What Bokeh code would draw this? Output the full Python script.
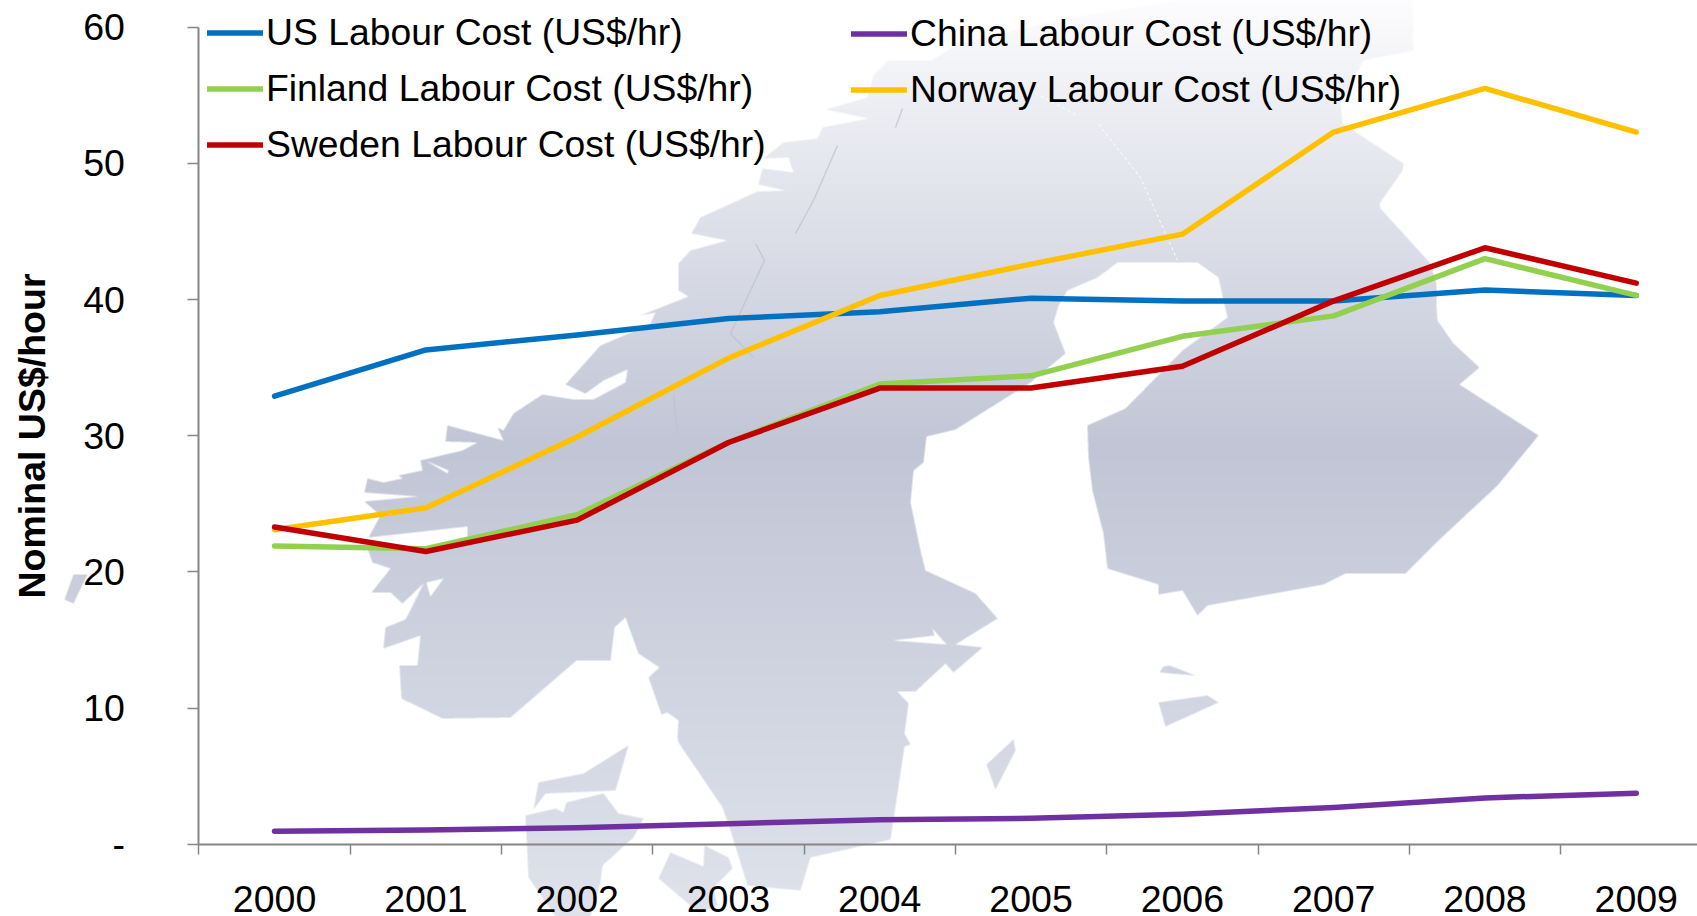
import numpy as np
from bokeh.embed import file_html
from bokeh.resources import INLINE
from bokeh.plotting import figure
from bokeh.models import Range1d, FixedTicker, Legend, LegendItem

# ---------- chart data ----------
years = [2000, 2001, 2002, 2003, 2004, 2005, 2006, 2007, 2008, 2009]
us = [32.9, 36.3, 37.4, 38.6, 39.1, 40.1, 39.9, 39.9, 40.7, 40.3]
china = [0.95, 1.05, 1.2, 1.5, 1.8, 1.9, 2.2, 2.7, 3.4, 3.75]
finland = [21.9, 21.7, 24.2, 29.5, 33.8, 34.4, 37.3, 38.8, 43.0, 40.3]
norway = [23.1, 24.7, 29.9, 35.7, 40.3, 42.6, 44.8, 52.3, 55.5, 52.3]
sweden = [23.3, 21.5, 23.8, 29.5, 33.5, 33.5, 35.1, 39.9, 43.8, 41.2]
y_ticks = [0, 10, 20, 30, 40, 50, 60]
y_labels = {0: "-", 10: "10", 20: "20", 30: "30", 40: "40", 50: "50", 60: "60"}

# ---------- page geometry ----------
W, H = 1697, 916
AX_L, AX_B, AX_T, STEP = 198.4, 843.7, 26.7, 151.3
PX_Y = (AX_B - AX_T) / 60.0
x0 = 1999.5 - AX_L / STEP
x1 = 1999.5 + (W - AX_L) / STEP
y0 = (AX_B - H) / PX_Y
y1 = AX_B / PX_Y
def fx(v): return [x0 + a / STEP for a in v]
def fy(v): return [(AX_B - a) / PX_Y for a in v]

# ---------- backdrop map outlines (page pixels) ----------
mainland = [(1174,0),(1412,0),(1413,50),(1363,60),(1340,103),(1342,123),(1403,163),(1402,170),(1379,203),(1380,208),
 (1430,263),(1436,283),(1436,305),(1437,320),(1453,343),(1479,367),(1459,384),(1538,435),(1497,485),(1438,540),
 (1405,573),(1345,573),(1323,584),(1207,605),(1197,615),(1182,590),(1158,594),(1158,584),(1107,568),(1103,533),
 (1092,490),(1088,457),(1087,425),(1125,408),(1182,350),(1227,317),(1223,300),(1218,277),(1197,262),(1117,262),
 (1097,277),(1067,290),(1058,305),(1053,322),(1065,353),(1030,382),(955,429),(926,436),(923,462),(913,470),
 (910,502),(920,550),(925,570),(975,593),(997,618),(955,644),(982,647),(953,672),(945,663),(915,691),(897,691),
 (908,703),(904,733),(910,744),(904,746),(890,839),(810,857),(800,890),(747,885),(730,830),(722,807),(678,742),
 (677,737),(678,720),(667,712),(661,714),(648,677),(659,667),(638,653),(625,617),(614,627),(610,660),(576,660),
 (510,717),(442,718),(401,698),(399,665),(417,665),(420,635),(383,648),(385,627),(405,619),(424,583),(409,610),
 (423,583),(402,603),(390,592),(371,592),(390,568),(372,562),(367,548),(368,537),(380,515),(364,501),(418,496),
 (364,492),(367,478),(383,482),(402,478),(398,475),(422,470),(420,460),(462,450),(477,442),(445,441),(447,425),
 (503,440),(497,427),(503,430),(513,413),(542,394),(573,399),(593,399),(625,382),(627,369),(603,380),(585,393),
 (565,384),(600,345),(640,328),(650,323),(655,312),(640,315),(688,296),(678,290),(678,263),(690,250),(727,240),
 (691,233),(700,217),(757,191),(785,190),(758,184),(762,168),(793,172),(788,157),(763,158),(783,142),(817,138),
 (822,127),(868,118),(825,109),(867,97),(873,75),(888,60),(931,60),(958,43),(1066,18)]
holes = [[(892,640),(934,635),(932,628),(946,644)],
         [(368,537),(467,526),(467,537),(457,546),(427,546),(368,546)],
         [(425,460),(448,470),(447,473)],
         [(426,582),(443,578),(430,596),(428,590)]]
islands = [[(1013,739),(1015,750),(995,789),(986,764)],
 [(658,878),(670,852),(703,866),(704,845),(728,857),(732,868),(713,887),(717,905),(700,912),(690,905)],
 [(525,815),(555,808),(563,812),(566,802),(603,793),(618,813),(643,818),(633,837),(602,865),(600,882),(590,916),(555,916),(528,877)],
 [(538,782),(583,773),(628,745),(615,790),(545,793),(533,809)],
 [(73,574),(87,574),(73,603),(64,599)],
 [(1163,666),(1169,665),(1195,675),(1159,672)],
 [(1158,702),(1207,695),(1218,702),(1165,726)]]
dark_traces = [[(837,145),(813,200),(795,233)],
               [(755,243),(764,260),(730,333),(753,357)],
               [(673,395),(677,435)],
               [(902,108),(895,127)]]
white_traces = [[(1030,90),(1077,115)], [(1098,124),(1140,177),(1177,260)]]

# ---------- rasterise the map with its vertical gradient ----------
SS = 3
cov = np.zeros((H, W), dtype=float)
polys = [mainland] + holes + islands
for sub in range(H * SS):
    yy = (sub + 0.5) / SS
    row = np.zeros(W * SS + 1, dtype=int)
    for poly in polys:
        a = np.array(poly, dtype=float)
        b = np.roll(a, -1, axis=0)
        hit = (a[:, 1] <= yy) != (b[:, 1] <= yy)
        if not hit.any():
            continue
        xs = a[hit, 0] + (yy - a[hit, 1]) / (b[hit, 1] - a[hit, 1]) * (b[hit, 0] - a[hit, 0])
        idx = np.clip(np.round(np.sort(xs) * SS).astype(int), 0, W * SS)
        np.add.at(row, idx, 1)
    inside = (np.cumsum(row)[:-1] % 2).astype(float)
    cov[sub // SS] += inside.reshape(W, SS).mean(axis=1) / SS

ys = np.arange(H)
stops_y = [0, 100, 445, 900]
r = np.interp(ys, stops_y, [253, 238, 193, 223])
g = np.interp(ys, stops_y, [253, 239, 198, 226])
b_ = np.interp(ys, stops_y, [254, 244, 214, 235])
img = np.zeros((H, W), dtype=np.uint32)
view = img.view(np.uint8).reshape(H, W, 4)
view[..., 0] = r[:, None].astype(np.uint8)
view[..., 1] = g[:, None].astype(np.uint8)
view[..., 2] = b_[:, None].astype(np.uint8)
view[..., 3] = (cov * 255).astype(np.uint8)
img = img[::-1]

# ---------- figure ----------
FONT = "Liberation Sans"
p = figure(width=W, height=H, output_backend="svg", toolbar_location=None,
           x_range=Range1d(x0, x1), y_range=Range1d(y0, y1), min_border=0,
           margin=0)
p.outline_line_color = None
p.grid.visible = False
p.background_fill_color = None
p.border_fill_color = None

p.image_rgba(image=[img], x=x0, y=y0, dw=x1 - x0, dh=y1 - y0)
for tr in dark_traces:
    p.line(fx([t[0] for t in tr]), fy([t[1] for t in tr]), line_color="#bcc0d0", line_width=1.5, line_alpha=0.7)
for tr in white_traces:
    p.line(fx([t[0] for t in tr]), fy([t[1] for t in tr]), line_color="#ffffff", line_width=1, line_dash="3 3")

series = [("US Labour Cost (US$/hr)", us, "#0070C0"),
          ("China Labour Cost (US$/hr)", china, "#7030A0"),
          ("Finland Labour Cost (US$/hr)", finland, "#92D050"),
          ("Norway Labour Cost (US$/hr)", norway, "#FFC000"),
          ("Sweden Labour Cost (US$/hr)", sweden, "#C00000")]
rs = {}
for name, vals, col in series:
    rs[name] = p.line(years, vals, line_color=col, line_width=5.5, line_cap="round", line_join="round")

def make_legend(names, lx, ly):
    lg = Legend(items=[LegendItem(label=n, renderers=[rs[n]]) for n in names], location=(lx, ly))
    lg.background_fill_alpha = 0
    lg.border_line_color = None
    lg.padding = 0
    lg.margin = 0
    lg.glyph_width = 56
    lg.glyph_height = 37
    lg.label_height = 37
    lg.spacing = 13
    lg.label_standoff = 3
    lg.label_text_font = FONT
    lg.label_text_font_size = "37.3px"
    lg.label_text_color = "#000000"
    p.add_layout(lg, "center")

make_legend([series[0][0], series[2][0], series[4][0]], 207, H - 166)
make_legend([series[1][0], series[3][0]], 851, H - 111)

# ---------- axes ----------
xa = p.xaxis[0]
xa.fixed_location = 0
xa.bounds = (1999.5, x1)
xa.ticker = FixedTicker(ticks=years, minor_ticks=[y + 0.5 for y in [1999] + years])
xa.major_label_overrides = {y: str(y) for y in years}
xa.major_tick_line_color = None
xa.major_tick_out = 0
xa.major_tick_in = 0
xa.minor_tick_out = 10
xa.minor_tick_in = 0
xa.minor_tick_line_color = "#868686"
xa.minor_tick_line_width = 1.5
xa.axis_line_color = "#868686"
xa.axis_line_width = 2
xa.major_label_standoff = 32
xa.major_label_text_font = FONT
xa.major_label_text_font_size = "37.5px"
xa.major_label_text_color = "#000000"

ya = p.yaxis[0]
ya.fixed_location = 1999.5
ya.bounds = (0, 60)
ya.ticker = FixedTicker(ticks=y_ticks)
ya.major_label_overrides = y_labels
ya.minor_tick_line_color = None
ya.major_tick_out = 11
ya.major_tick_in = 0
ya.major_tick_line_color = "#868686"
ya.major_tick_line_width = 1.5
ya.axis_line_color = "#868686"
ya.axis_line_width = 2
ya.major_label_standoff = 63
ya.major_label_text_font = FONT
ya.major_label_text_font_size = "37.5px"
ya.major_label_text_color = "#000000"
ya.axis_label = "Nominal US$/hour"
ya.axis_label_text_font = FONT
ya.axis_label_text_font_style = "bold"
ya.axis_label_text_font_size = "37.5px"
ya.axis_label_text_color = "#000000"
ya.axis_label_standoff = 27

open("out.html", "w").write(file_html(p, INLINE))
